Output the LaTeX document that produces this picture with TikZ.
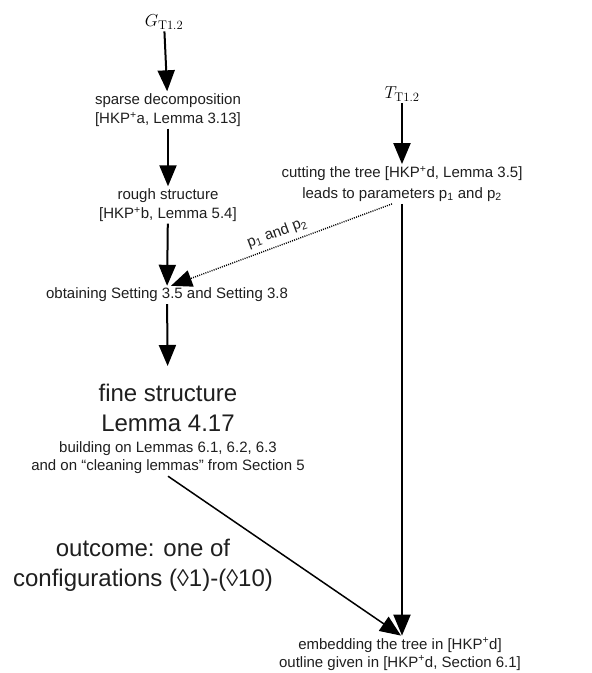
\documentclass[tikz,border=0pt]{standalone}
\usepackage{fontspec}
\newfontfamily\lib{Liberation Sans}
\usetikzlibrary{arrows.meta,calc}
\begin{document}
\begin{tikzpicture}[x=1pt,y=-1pt,
  small/.style={font=\lib\fontsize{15}{19}\selectfont, align=center, text=black!88, inner sep=2pt},
  big/.style={font=\lib\fontsize{24}{30}\selectfont, align=center, text=black!88, inner sep=2pt},
  mathlbl/.style={font=\fontsize{18}{20}\selectfont, inner sep=2pt},
  arr/.style={-{Triangle[length=21pt,width=17pt]}, line width=2pt},
  thinarr/.style={-{Triangle[length=21pt,width=17pt]}, line width=1.5pt},
  dotarr/.style={-{Triangle[length=21pt,width=17pt]}, line width=1.4pt, dash pattern=on 1pt off 1.2pt}]
\useasboundingbox (0,0) rectangle (592,673);
\fill[white] (0,0) rectangle (592,673);

\node[mathlbl] (G) at (164,22) {$G_{\mathrm{T1.2}}$};
\node[small] (sd) at (168,110) {sparse decomposition\\{}[HKP\textsuperscript{+}a, Lemma 3.13]};
\node[small] (rs) at (168,205) {rough structure\\{}[HKP\textsuperscript{+}b, Lemma 5.4]};
\node[small] (ob) at (167,295) {obtaining Setting 3.5 and Setting 3.8};
\node[big] (fs1) at (168,408) {fine structure\\Lemma 4.17};
\node[small, font=\lib\fontsize{15}{18}\selectfont] (fs2) at (168,458) {building on Lemmas 6.1, 6.2, 6.3\\and on “cleaning lemmas” from Section 5};
\node[big] (out) at (143,565) {outcome: one of\\configurations (◊1)-(◊10)};
\node[mathlbl] (T) at (402,94) {$T_{\mathrm{T1.2}}$};
\node[small, font=\lib\fontsize{15}{21}\selectfont] (ct) at (402,184) {cutting the tree [HKP\textsuperscript{+}d, Lemma 3.5]\\leads to parameters p\textsubscript{1} and p\textsubscript{2}};
\node[small, font=\lib\fontsize{15}{18}\selectfont] (emb) at (400,654) {embedding the tree in [HKP\textsuperscript{+}d]\\outline given in [HKP\textsuperscript{+}d, Section 6.1]};

\draw[arr] (G) -- (sd);
\draw[arr] (sd) -- (rs);
\draw[arr] (rs) -- (ob);
\draw[arr, shorten >=16pt] (ob) -- (fs1);
\draw[arr] (T) -- (ct);
\draw[arr] (ct.south) -- (ct.south |- emb.north);
\draw[thinarr] (fs2.south) -- ($(emb.north)+(1,0)$);
\draw[dotarr] ($(ct.south)+(-10,0)$) -- node[sloped, above, inner sep=5pt, font=\lib\fontsize{15}{18}\selectfont, text=black!88] {p\textsubscript{1} and p\textsubscript{2}} ($(ob.north)+(4,0)$);
\end{tikzpicture}
\end{document}
